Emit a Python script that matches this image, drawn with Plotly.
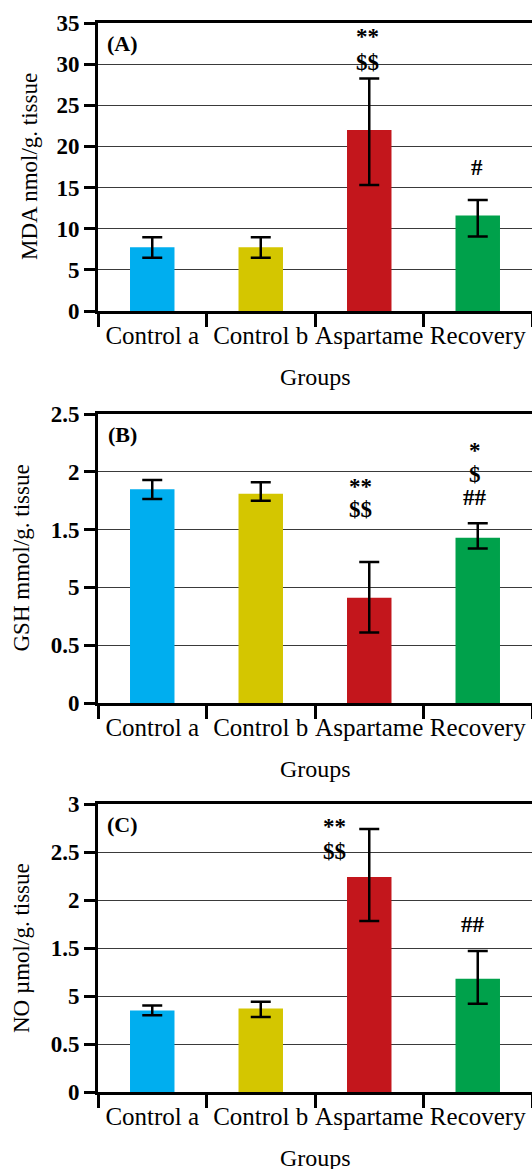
import plotly.graph_objects as go
from plotly.subplots import make_subplots

groups = ["Control a", "Control b", "Aspartame", "Recovery"]
colors = ["#00AEEF", "#D4C600", "#C3161C", "#00A14B"]

mda = [7.75, 7.75, 22.0, 11.6]
mda_up = [1.2, 1.2, 6.25, 1.9]
mda_dn = [1.28, 1.28, 6.7, 2.56]
mda_tickvals = [0, 5, 10, 15, 20, 25, 30, 35]
mda_ticktext = ["0", "5", "10", "15", "20", "25", "30", "35"]

gsh = [1.85, 1.81, 0.91, 1.43]
gsh_up = [0.08, 0.10, 0.31, 0.126]
gsh_dn = [0.086, 0.06, 0.30, 0.093]
gsh_tickvals = [0, 0.5, 1, 1.5, 2, 2.5]
gsh_ticktext = ["0", "0.5", "5", "1.5", "2", "2.5"]

no = [0.85, 0.87, 2.24, 1.18]
no_up = [0.05, 0.07, 0.50, 0.29]
no_dn = [0.05, 0.09, 0.46, 0.26]
no_tickvals = [0, 0.5, 1, 1.5, 2, 2.5, 3]
no_ticktext = ["0", "0.5", "5", "1.5", "2", "2.5", "3"]

panels = [
    dict(vals=mda, up=mda_up, dn=mda_dn, tv=mda_tickvals, tt=mda_ticktext, rng=[0, 35],
         title="MDA nmol/g. tissue", label="(A)", top=23, bottom=311, tx=30,
         marks=[(1.98, 33.3, "**"), (1.98, 30.25, "$$"), (2.99, 17.4, "#")]),
    dict(vals=gsh, up=gsh_up, dn=gsh_dn, tv=gsh_tickvals, tt=gsh_ticktext, rng=[0, 2.5],
         title="GSH mmol/g. tissue", label="(B)", top=414, bottom=703, tx=21,
         marks=[(1.92, 1.877, "**"), (1.92, 1.67, "$$"), (2.97, 2.18, "*"), (2.97, 1.98, "$"), (2.97, 1.78, "##")]),
    dict(vals=no, up=no_up, dn=no_dn, tv=no_tickvals, tt=no_ticktext, rng=[0, 3],
         title="NO µmol/g. tissue", label="(C)", top=804, bottom=1092, tx=21,
         marks=[(1.68, 2.77, "**"), (1.68, 2.51, "$$"), (2.96, 1.74, "##")]),
]

W, H = 532, 1169
X0 = 98
serif = "Liberation Serif"

fig = make_subplots(rows=3, cols=1)
annotations = []
for i, p in enumerate(panels):
    r = i + 1
    fig.add_trace(go.Bar(
        x=groups, y=p["vals"], marker=dict(color=colors, line=dict(width=0)),
        width=0.41,
        error_y=dict(type="data", symmetric=False, array=p["up"], arrayminus=p["dn"],
                     color="black", thickness=2.5, width=10),
        showlegend=False,
    ), row=r, col=1)
    xa = "xaxis" if r == 1 else f"xaxis{r}"
    ya = "yaxis" if r == 1 else f"yaxis{r}"
    fig.layout[xa].update(
        domain=[X0 / W, 1], type="category", range=[-0.5, 3.5],
        showline=True, linecolor="black", linewidth=3, mirror=True,
        ticks="outside", tickson="boundaries", ticklen=13, tickwidth=2.5, tickcolor="black",
        showgrid=False, tickangle=0, automargin=False,
        tickfont=dict(family=serif, size=25, color="black"),
    )
    fig.layout[ya].update(
        domain=[1 - p["bottom"] / H, 1 - p["top"] / H], range=p["rng"],
        tickvals=p["tv"], ticktext=["<b>" + t + "</b>" for t in p["tt"]],
        showline=True, linecolor="black", linewidth=3,
        ticks="outside", ticklen=11, tickwidth=2.5, tickcolor="black",
        showgrid=True, gridcolor="#3a3a3a", gridwidth=1, zeroline=False, automargin=False,
        tickfont=dict(family=serif, size=23, color="black"),
    )
    xref = "x" if r == 1 else f"x{r}"
    yref = "y" if r == 1 else f"y{r}"
    for (mx, my, mt) in p["marks"]:
        annotations.append(dict(x=mx, y=my, xref=xref, yref=yref, text="<b>" + mt + "</b>",
                                showarrow=False,
                                font=dict(family=serif, size=23, color="black"),
                                xanchor="center", yanchor="middle"))
    # panel label
    annotations.append(dict(x=122 / W, y=1 - (p["top"] + 20) / H, xref="paper", yref="paper",
                            text="<b>" + p["label"] + "</b>", showarrow=False,
                            font=dict(family=serif, size=22, color="black"),
                            xanchor="center", yanchor="middle"))
    # y title
    annotations.append(dict(x=p["tx"] / W, y=1 - (p["top"] + p["bottom"]) / 2 / H,
                            xref="paper", yref="paper", text=p["title"], textangle=-90,
                            showarrow=False, font=dict(family=serif, size=23, color="black"),
                            xanchor="center", yanchor="middle"))
    # x title
    annotations.append(dict(x=315 / W, y=1 - (p["bottom"] + 66) / H, xref="paper", yref="paper",
                            text="Groups", showarrow=False,
                            font=dict(family=serif, size=24, color="black"),
                            xanchor="center", yanchor="middle"))

fig.update_layout(
    width=W, height=H, margin=dict(l=0, r=0, t=0, b=0, autoexpand=False),
    paper_bgcolor="white", plot_bgcolor="white",
    annotations=annotations, bargap=0.59,
)

fig.write_html("out.html", config={"displayModeBar": False},
               post_script="document.body.style.margin='0';document.body.style.overflow='hidden';")
